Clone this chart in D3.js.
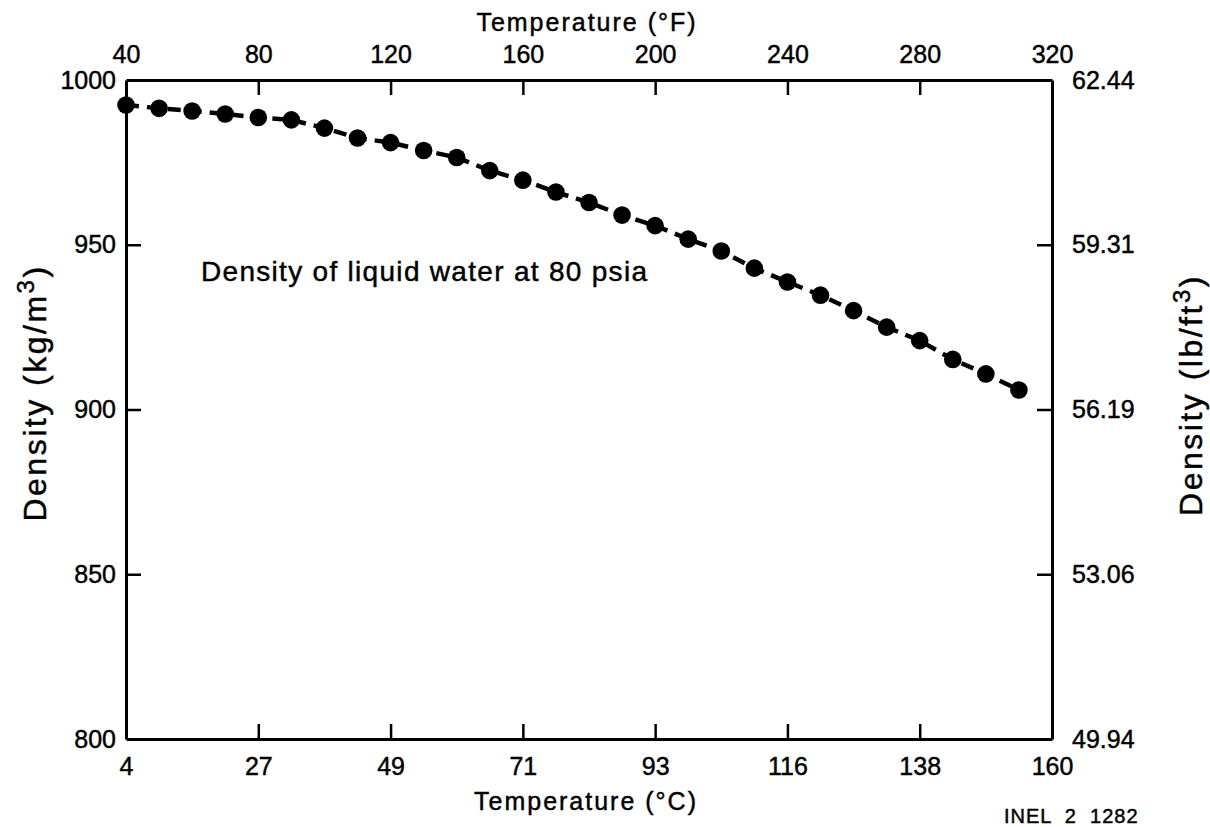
<!DOCTYPE html>
<html>
<head>
<meta charset="utf-8">
<script src="https://cdn.jsdelivr.net/npm/d3@7/dist/d3.min.js"></script>
<style>
  html, body { margin: 0; padding: 0; background: #fff; }
  svg { display: block; font-family: "Liberation Sans", Arial, Helvetica, sans-serif; }
  svg text { fill: #000; stroke: #000; stroke-width: 0.45px; }
  .axis path, .axis line { stroke: #000; }
  .axis text { font-size: 25px; }
</style>
</head>
<body>
<svg id="chart" width="1210" height="827"></svg>
<script>
// Temperature of each measured point (°F)
const tempF = [40, 50, 60, 70, 80, 90, 100, 110, 120, 130, 140, 150, 160, 170,
               180, 190, 200, 210, 220, 230, 240, 250, 260, 270, 280, 290, 300, 310];
// Density of liquid water at 80 psia (kg/m3)
const density = [992.4, 991.4, 990.6, 989.7, 988.6, 987.9, 985.4, 982.4, 981.0, 978.6,
                 976.5, 972.5, 969.6, 966.0, 962.8, 959.0, 955.8, 951.7, 948.1, 942.9,
                 938.7, 934.7, 930.0, 925.0, 920.9, 915.2, 910.8, 905.9];

// Tick positions (°F) and their labels on each axis
const ticksF = [40, 80, 120, 160, 200, 240, 280, 320];
const labelsC = ["4", "27", "49", "71", "93", "116", "138", "160"];
const ticksKg = [800, 850, 900, 950, 1000];
const labelsLb = ["49.94", "53.06", "56.19", "59.31", "62.44"];

const svg = d3.select("#chart");
const plotL = 126, plotR = 1052, plotT = 80, plotB = 739;

const x = d3.scaleLinear().domain([40, 320]).range([plotL, plotR]);
const y = d3.scaleLinear().domain([800, 1000]).range([plotB, plotT]);

const tick = 15;

// Bottom axis: °C labels at °F positions
const gB = svg.append("g").attr("class", "axis").attr("transform", `translate(0,${plotB})`)
  .call(d3.axisBottom(x).tickValues(ticksF).tickSizeInner(-tick).tickSizeOuter(0).tickPadding(18)
        .tickFormat((d, i) => labelsC[i]));
// Top axis: °F
const gT = svg.append("g").attr("class", "axis").attr("transform", `translate(0,${plotT})`)
  .call(d3.axisTop(x).tickValues(ticksF).tickSizeInner(-tick).tickSizeOuter(0).tickPadding(17)
        .tickFormat(d3.format("d")));
// Left axis: kg/m3
const gL = svg.append("g").attr("class", "axis").attr("transform", `translate(${plotL},0)`)
  .call(d3.axisLeft(y).tickValues(ticksKg).tickSizeInner(-tick).tickSizeOuter(0).tickPadding(10)
        .tickFormat(d3.format("d")));
// Right axis: lb/ft3 at the same positions
const gR = svg.append("g").attr("class", "axis").attr("transform", `translate(${plotR},0)`)
  .call(d3.axisRight(y).tickValues(ticksKg).tickSizeInner(-tick).tickSizeOuter(0).tickPadding(20)
        .tickFormat((d, i) => labelsLb[i]));

[gB, gT, gL, gR].forEach(g => {
  g.select(".domain").attr("stroke-width", 3);
  g.selectAll(".tick line").attr("stroke-width", 2.5);
});
// end ticks at the frame corners are hidden in the frame itself
gB.selectAll(".tick line").filter(d => d === 40 || d === 320).remove();
gT.selectAll(".tick line").filter(d => d === 40 || d === 320).remove();
gL.selectAll(".tick line").filter(d => d === 800 || d === 1000).remove();
gR.selectAll(".tick line").filter(d => d === 800 || d === 1000).remove();

// Dashed curve through the points
const line = d3.line().x((d, i) => x(tempF[i])).y(d => y(d));
svg.append("path")
  .datum(density)
  .attr("d", line)
  .attr("fill", "none")
  .attr("stroke", "#000")
  .attr("stroke-width", 4.5)
  .attr("stroke-dasharray", "13,8");

svg.append("g").selectAll("circle")
  .data(density)
  .join("circle")
  .attr("cx", (d, i) => x(tempF[i]))
  .attr("cy", d => y(d))
  .attr("r", 8.8)
  .attr("fill", "#000");

// Annotation
svg.append("text")
  .attr("x", 201).attr("y", 281)
  .attr("font-size", 28).attr("letter-spacing", 1.3)
  .text("Density of liquid water at 80 psia");

// Axis titles
svg.append("text")
  .attr("x", 586).attr("y", 810).attr("text-anchor", "middle")
  .attr("font-size", 25).attr("letter-spacing", 2)
  .text("Temperature (°C)");

svg.append("text")
  .attr("x", 587).attr("y", 31).attr("text-anchor", "middle")
  .attr("font-size", 25).attr("letter-spacing", 2)
  .text("Temperature (°F)");

const lt = svg.append("text")
  .attr("transform", "translate(46,393) rotate(-90)")
  .attr("text-anchor", "middle")
  .attr("font-size", 32).attr("letter-spacing", 2.5);
lt.append("tspan").text("Density (kg/m");
lt.append("tspan").attr("dy", -12).attr("font-size", 24).text("3");
lt.append("tspan").attr("dy", 12).text(")");

const rt = svg.append("text")
  .attr("transform", "translate(1202,395) rotate(-90)")
  .attr("text-anchor", "middle")
  .attr("font-size", 32).attr("letter-spacing", 2.5);
rt.append("tspan").text("Density (lb/ft");
rt.append("tspan").attr("dy", -12).attr("font-size", 24).text("3");
rt.append("tspan").attr("dy", 12).text(")");

// Figure identifier
svg.append("text")
  .attr("x", 1004).attr("y", 823)
  .attr("font-size", 20).attr("letter-spacing", 1)
  .attr("style", "white-space: pre")
  .text("INEL  2  1282");
</script>
</body>
</html>
